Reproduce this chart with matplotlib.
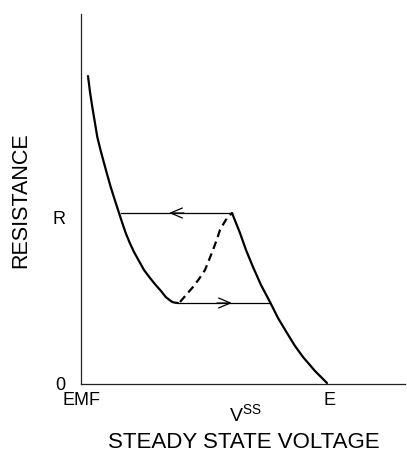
import matplotlib
matplotlib.use("Agg")
import matplotlib.pyplot as plt

plt.rcParams['font.family'] = ['Liberation Sans', 'DejaVu Sans']
plt.rcParams['mathtext.fontset'] = 'custom'
plt.rcParams['mathtext.rm'] = 'Liberation Sans'

# Data (arbitrary schematic units: voltage on x, resistance on y)
left_x = [7, 9, 11.3, 13.8, 16.3, 19.5, 23, 26.3, 29.7, 33.8, 38, 41.3, 44.7, 48.8, 53, 58, 63, 69, 74.7, 80, 84.7, 88.5, 91.3, 94, 97]
left_y = [307, 291, 276, 261, 246, 233, 220, 208, 196, 183, 170, 160, 150, 140, 131, 122, 113, 105, 98, 92, 86, 83, 81, 80.3, 80]
dash_x = [99, 105, 112, 118, 124, 128, 132, 136, 139, 143, 146, 149, 151]
dash_y = [81, 88, 96, 104, 113, 123, 133, 144, 153, 160, 165, 168, 170]
right_x = [151, 155, 159, 165, 172, 180, 189, 197, 206, 214, 222, 234, 246]
right_y = [170, 160, 150, 133, 116, 98, 81, 65, 50, 37, 26, 12, 0]
upper_level = 170
upper_start, upper_end = 39.7, 151
lower_level = 80
lower_start, lower_end = 97, 189
upper_arrow_tip = 88
lower_arrow_tip = 151
ytick_pos = [0, 166]
ytick_lab = ['0', 'R']
xtick_pos = [0, 248]
xtick_lab = ['EMF', 'E']

W, H = 407, 455
fig = plt.figure(figsize=(W / 100, H / 100), dpi=100)
ax = fig.add_axes([81 / W, 1 - 384 / H, (405 - 81) / W, (384 - 14) / H])
ax.set_xlim(0, 324)
ax.set_ylim(-1, 369)

for s in ['top', 'right']:
    ax.spines[s].set_visible(False)
for s in ['left', 'bottom']:
    ax.spines[s].set_linewidth(0.9)
    ax.spines[s].set_color('#222222')

ax.plot(left_x, left_y, color='black', lw=1.6, solid_capstyle='round', solid_joinstyle='round')
ax.plot(dash_x, dash_y, color='black', lw=1.6, ls=(0, (3.5, 2.2)))
ax.plot(right_x, right_y, color='black', lw=1.6, solid_capstyle='round', solid_joinstyle='round')

ax.plot([upper_start, upper_end], [upper_level, upper_level], color='black', lw=0.9)
ax.plot([lower_start, lower_end], [lower_level, lower_level], color='black', lw=0.9)

ap = dict(arrowstyle='->,head_length=0.85,head_width=0.36', color='black', lw=0.9,
          shrinkA=0, shrinkB=0, mutation_scale=10)
ax.annotate('', xy=(upper_arrow_tip, upper_level), xytext=(upper_arrow_tip + 15, upper_level), arrowprops=ap)
ax.annotate('', xy=(lower_arrow_tip, lower_level), xytext=(lower_arrow_tip - 15, lower_level), arrowprops=ap)

ax.set_yticks(ytick_pos)
ax.set_yticklabels(ytick_lab, fontsize=13)
ax.set_xticks(xtick_pos)
ax.set_xticklabels(xtick_lab, fontsize=13)
ax.tick_params(axis='y', length=0, pad=11)
ax.tick_params(axis='x', length=0, pad=5.5)

fig.text(245 / W, 1 - 415 / H, r'V$^{\mathrm{SS}}$', fontsize=14, ha='center', va='center')
fig.text(244 / W, 1 - 443 / H, 'STEADY STATE VOLTAGE', fontsize=16, ha='center', va='center')
fig.text(21 / W, 1 - 200 / H, 'RESISTANCE', fontsize=15.5, ha='center', va='center', rotation=90)

fig.savefig('out.png', dpi=100)
